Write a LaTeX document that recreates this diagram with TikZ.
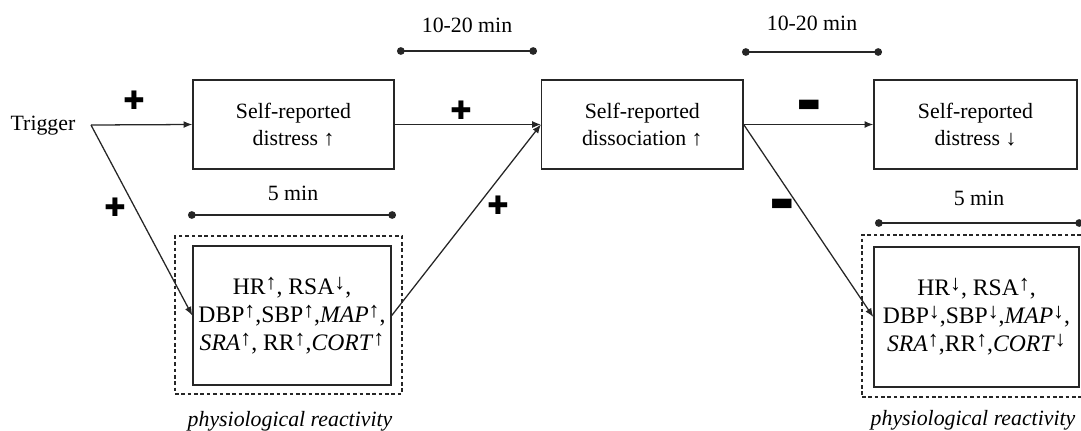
\documentclass[tikz,border=0pt]{standalone}
\usepackage{fontspec}
\setmainfont{Liberation Serif}
\newfontfamily\signfont{DejaVu Sans}
\usetikzlibrary{arrows.meta}
\newcommand{\upar}{\raisebox{0.45ex}{\fontsize{12}{12}\selectfont ↑}}
\newcommand{\dnar}{\raisebox{0.45ex}{\fontsize{12}{12}\selectfont ↓}}
\tikzset{
  box/.style={draw=black!85, line width=0.8pt, minimum height=49pt, align=center,
    font=\fontsize{12}{14.6}\selectfont},
  physbox/.style={draw=black!85, line width=0.8pt, align=center, inner sep=1pt,
    font=\fontsize{13}{15.4}\selectfont},
  frame/.style={draw=black!85, dash pattern=on 2pt off 1.5pt, line width=0.6pt},
  link/.style={-{Latex[length=4.8pt,width=3.8pt]}, draw=black!85, line width=0.7pt},
  span/.style={{Circle[length=4.2pt]}-{Circle[length=4.2pt]}, draw=black!85, line width=0.7pt},
  sign/.style={font=\signfont\fontsize{14}{14}\selectfont, inner sep=0pt},
  txt/.style={font=\fontsize{12}{14}\selectfont, inner sep=0pt}
}
\begin{document}
\begin{tikzpicture}[x=0.55pt, y=-0.55pt]
  \useasboundingbox (0,0) rectangle (1081,430);
  % main boxes
  \node[txt] (trig) at (43,126) {Trigger};
  \coordinate (fork) at (91,125);
  \node[box, minimum width=110.5pt] (distUp) at (293.5,124.5) {Self-reported\\distress ↑};
  \node[box, minimum width=110.7pt] (diss) at (642.3,124.5) {Self-reported\\dissociation ↑};
  \node[box, minimum width=111.6pt] (distDn) at (975.5,124.5) {Self-reported\\distress ↓};
  % physiological boxes
  \node[frame, minimum width=124.85pt, minimum height=86.9pt] (frameL) at (288.5,315) {};
  \node[physbox, minimum width=108.9pt, minimum height=76.45pt] (physL) at (292,315.5)
    {HR\upar, RSA\dnar,\\DBP\upar,SBP\upar,\textit{MAP}\upar,\\\textit{SRA}\upar, RR\upar,\textit{CORT}\upar};
  \node[txt, font=\fontsize{12}{14}\itshape] (reactL) at (290,421) {physiological reactivity};
  \node[frame, minimum width=125.95pt, minimum height=89.1pt] (frameR) at (976.5,316) {};
  \node[physbox, minimum width=112.75pt, minimum height=77pt] (physR) at (976.5,317)
    {HR\dnar, RSA\upar,\\DBP\dnar,SBP\dnar,\textit{MAP}\dnar,\\\textit{SRA}\upar,RR\upar,\textit{CORT}\dnar};
  \node[txt, font=\fontsize{12}{14}\itshape] (reactR) at (973,420) {physiological reactivity};
  % time spans
  \coordinate (s1a) at (397,51);
  \coordinate (s1b) at (537,51);
  \draw[span] (s1a) -- (s1b);
  \node[txt] (t1) at (467,25) {10-20 min};
  \coordinate (s2a) at (742,52);
  \coordinate (s2b) at (882,52);
  \draw[span] (s2a) -- (s2b);
  \node[txt] (t2) at (812,23) {10-20 min};
  \coordinate (s3a) at (188,215);
  \coordinate (s3b) at (396,215);
  \draw[span] (s3a) -- (s3b);
  \node[txt] (t3) at (293,193) {5 min};
  \coordinate (s4a) at (875,223);
  \coordinate (s4b) at (1083,223);
  \draw[span] (s4a) -- (s4b);
  \node[txt] (t4) at (979,198) {5 min};
  % links
  \draw[link] (fork) -- (distUp.west);
  \draw[link] (fork) -- (physL.west);
  \draw[link] (distUp.east) -- (diss.west);
  \draw[link] (physL.east) -- (diss.west);
  \draw[link] (diss.east) -- (distDn.west);
  \draw[link] (diss.east) -- (physR.west);
  % signs
  \node[sign] (p1) at (134,100) {✚};
  \node[sign] (p2) at (115,207) {✚};
  \node[sign] (p3) at (461,110) {✚};
  \node[sign] (p4) at (498,205) {✚};
  \node[sign] (m1) at (809,106) {▬};
  \node[sign] (m2) at (782,205) {▬};
\end{tikzpicture}
\end{document}
